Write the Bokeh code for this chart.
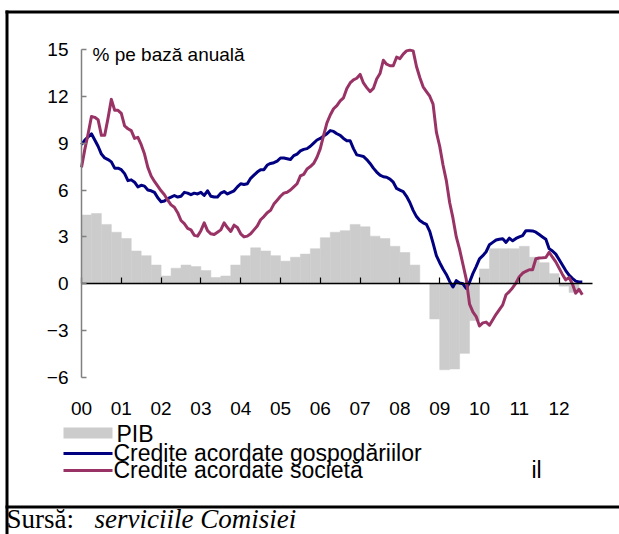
from bokeh.plotting import figure
from bokeh.models import Range1d, LinearAxis, FixedTicker
from bokeh.core.properties import value
from bokeh.embed import file_html
from bokeh.resources import INLINE

# ---------------- data ----------------
years = list(range(2000, 2013))
year_labels = ["00", "01", "02", "03", "04", "05", "06", "07", "08", "09", "10", "11", "12"]
y_ticks = [-6, -3, 0, 3, 6, 9, 12, 15]

# PIB (GDP), quarterly, 2000Q1 .. 2012Q2
gdp = [4.4, 4.5, 3.8, 3.3,
       2.9, 2.1, 1.8, 1.2,
       0.5, 1.0, 1.2, 1.1,
       0.85, 0.4, 0.5, 1.2,
       1.8, 2.3, 2.1, 1.8,
       1.45, 1.7, 1.9, 2.25,
       2.95, 3.3, 3.4, 3.8,
       3.65, 3.05, 2.9, 2.4,
       2.0, 1.2, 0.05, -2.25,
       -5.5, -5.45, -4.45, -2.35,
       0.95, 2.25, 2.25, 2.25,
       2.4, 1.7, 1.35, 0.65,
       -0.15, -0.55]

# Credite acordate gospodăriilor, monthly, Jan 2000 .. Aug 2012
households = [8.9, 9.2, 9.4, 9.6, 9.2, 8.8, 8.3, 8.05, 7.95, 7.8, 7.4, 7.4,
              7.3, 7.05, 6.6, 6.65, 6.5, 6.2, 6.3, 6.25, 6.0, 5.95, 5.85, 5.5,
              5.25, 5.3, 5.45, 5.55, 5.65, 5.55, 5.6, 5.85, 5.8, 5.7, 5.8, 5.75,
              5.85, 5.65, 5.95, 5.6, 5.55, 5.55, 5.8, 5.9, 5.75, 5.85, 5.95, 6.2,
              6.4, 6.35, 6.4, 6.75, 6.95, 7.15, 7.3, 7.3, 7.6, 7.7, 7.75, 7.85,
              8.05, 8.05, 8.0, 7.95, 8.2, 8.3, 8.5, 8.6, 8.65, 8.8, 9.0, 9.2,
              9.3, 9.45, 9.6, 9.8, 9.75, 9.6, 9.5, 9.3, 9.15, 9.15, 8.65, 8.25,
              8.2, 8.15, 7.95, 7.7, 7.4, 7.15, 6.95, 6.85, 6.82, 6.7, 6.5, 6.1,
              6.0, 5.9, 5.6, 5.2, 4.7, 4.3, 4.05, 3.9, 3.8, 3.35, 2.6, 1.8,
              1.35, 0.95, 0.6, 0.15, -0.2, 0.2, 0.05, 0.0, -0.3, 0.1, 0.65, 1.1,
              1.6, 1.8, 2.05, 2.5, 2.65, 2.8, 2.85, 2.88, 2.65, 2.92, 2.75, 2.9,
              3.0, 3.08, 3.4, 3.4, 3.38, 3.3, 3.15, 3.0, 2.85, 2.25, 2.1, 1.9,
              1.55, 1.2, 0.85, 0.55, 0.35, 0.17, 0.12, 0.12]

# Credite acordate societăților, monthly, Jan 2000 .. Aug 2012
companies = [7.45, 8.6, 9.6, 10.7, 10.65, 10.5, 9.5, 9.5, 10.6, 11.8, 11.1, 11.1,
             10.9, 10.1, 9.92, 9.8, 9.3, 9.37, 8.9, 8.3, 7.45, 6.9, 6.55, 6.25,
             5.95, 5.7, 5.35, 5.05, 4.9, 4.55, 4.05, 3.85, 3.55, 3.45, 3.1, 3.05,
             3.4, 3.9, 3.4, 3.2, 3.15, 3.3, 3.45, 3.9, 3.6, 3.35, 3.75, 3.6,
             3.2, 3.0, 3.05, 3.2, 3.45, 3.7, 4.1, 4.3, 4.55, 4.7, 5.1, 5.35,
             5.6, 5.8, 5.86, 6.0, 6.2, 6.4, 6.9, 7.0, 7.35, 7.5, 7.7, 8.1,
             8.65, 9.5, 10.3, 10.8, 11.2, 11.4, 11.7, 11.9, 12.5, 12.85, 13.05, 13.15,
             13.4, 12.85, 12.55, 12.3, 12.5, 13.1, 13.45, 14.3, 14.05, 13.95, 13.95, 14.5,
             14.4, 14.7, 14.9, 14.95, 14.9, 13.9, 13.2, 12.6, 12.3, 12.0, 11.5, 9.7,
             8.8, 7.6, 6.6, 5.2, 4.2, 3.0, 2.2, 1.25, 0.3, -1.3, -1.8, -2.1,
             -2.7, -2.5, -2.45, -2.65, -2.3, -1.95, -1.65, -1.35, -0.7, -0.5, -0.25, 0.05,
             0.45, 0.68, 0.8, 0.9, 0.9, 1.6, 1.65, 1.66, 1.68, 2.02, 1.7, 1.4,
             1.0, 0.6, 0.25, 0.4, 0.0, -0.6, -0.35, -0.7]

legend_labels = ["PIB", "Credite acordate gospodăriilor", "Credite acordate societă"]
unit_label = "% pe bază anuală"
source_prefix = "Sursă:"
source_text = "serviciile Comisiei"

# ---------------- geometry ----------------
W, H = 619, 534
PX_YEAR = 39.8      # pixels per year
X0 = 81.0           # pixel of year 2000
PX_UNIT = 15.63     # pixels per percentage point
Y0 = 283.3          # pixel of value 0
x_start = 2000 - X0 / PX_YEAR
x_end = x_start + W / PX_YEAR
y_top = Y0 / PX_UNIT
y_bot = y_top - H / PX_UNIT
x_axis_end = 2012.83


def X(px):
    return x_start + px / PX_YEAR


def Y(py):
    return y_top - py / PX_UNIT


FONT_NAME = "Liberation Sans"
FONT = value(FONT_NAME)
SERIF = value("Liberation Serif")
NAVY = "#000080"
PLUM = "#993366"
GREY = "#CCCCCC"

p = figure(width=W, height=H, x_range=Range1d(x_start, x_end), y_range=Range1d(y_bot, y_top),
           output_backend="svg", toolbar_location=None, x_axis_type=None, y_axis_type=None,
           min_border=0, title=None)
p.outline_line_color = None
p.background_fill_color = "white"
p.border_fill_color = "white"

# bars (quarterly GDP)
q_x = [2000 + (i + 0.5) * 0.25 for i in range(len(gdp))]
p.vbar(x=q_x, top=gdp, bottom=0, width=0.25, fill_color=GREY, line_color=GREY, line_width=0.5)

# lines (monthly credit)
m_x = [2000 + m / 12 for m in range(len(households))]
p.line(m_x, households, line_color=NAVY, line_width=3, line_join="round")
p.line(m_x, companies, line_color=PLUM, line_width=3, line_join="round")

# y axis
yaxis = LinearAxis(fixed_location=2000, ticker=FixedTicker(ticks=y_ticks), bounds=(-6, 15),
                   axis_line_color="#808080", axis_line_width=1.5,
                   major_tick_in=5, major_tick_out=0, major_tick_line_color="#808080",
                   major_tick_line_width=1.5, minor_tick_line_color=None,
                   major_label_text_font=FONT_NAME, major_label_text_font_size="19px",
                   major_label_text_color="black", major_label_standoff=13)
p.add_layout(yaxis, "left")

# x axis (line at zero, labels at the bottom)
xaxis = LinearAxis(fixed_location=0, ticker=FixedTicker(ticks=years), bounds=(2000, x_axis_end),
                   major_label_overrides={yr: lab for yr, lab in zip(years, year_labels)},
                   axis_line_color="black", axis_line_width=1.5,
                   major_tick_in=6, major_tick_out=0, major_tick_line_color="black",
                   major_tick_line_width=1.2, minor_tick_line_color=None,
                   major_label_text_font=FONT_NAME, major_label_text_font_size="19px",
                   major_label_text_color="black", major_label_standoff=118)
p.add_layout(xaxis, "below")

# unit label
p.text(x=[X(92)], y=[Y(54)], text=[unit_label], text_font=FONT, text_font_size="19px",
       text_baseline="middle", text_align="left", text_color="black")

# legend (drawn manually to reproduce the tight layout)
p.quad(left=[X(63)], right=[X(112)], top=[Y(427)], bottom=[Y(438)], fill_color=GREY, line_color=None)
p.segment(x0=[X(63)], y0=[Y(453)], x1=[X(112)], y1=[Y(453)], line_color=NAVY, line_width=3)
p.segment(x0=[X(63)], y0=[Y(470)], x1=[X(112)], y1=[Y(470)], line_color=PLUM, line_width=3)
p.text(x=[X(116), X(113), X(113)], y=[Y(433), Y(452), Y(469)], text=legend_labels,
       text_font=FONT, text_font_size="23px", text_baseline="middle", text_align="left",
       text_color="black")
p.text(x=[X(531)], y=[Y(469)], text=["il"], text_font=FONT, text_font_size="23px",
       text_baseline="middle", text_align="left", text_color="black")

# frame lines (left, top, bottom)
p.segment(x0=[X(6.5), X(5), X(5)], y0=[Y(10), Y(11.5), Y(506.5)],
          x1=[X(6.5), X(619), X(619)], y1=[Y(534), Y(11.5), Y(506.5)],
          line_color="black", line_width=3)

# source
p.text(x=[X(6)], y=[Y(518.5)], text=[source_prefix], text_font=SERIF, text_font_size="27px",
       text_baseline="middle", text_align="left", text_color="black")
p.text(x=[X(94)], y=[Y(518.5)], text=[source_text], text_font=SERIF, text_font_size="27px",
       text_font_style="italic", text_baseline="middle", text_align="left", text_color="black")

open("out.html", "w").write(file_html(p, INLINE))
